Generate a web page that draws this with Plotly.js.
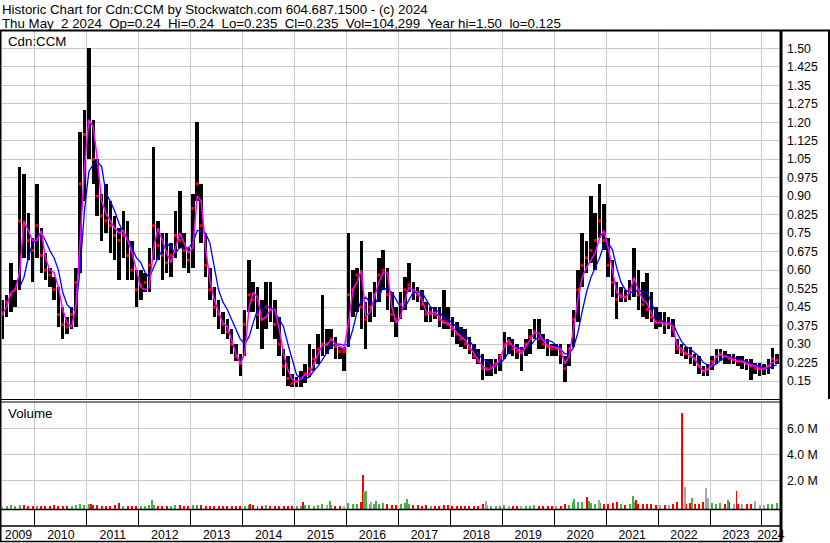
<!DOCTYPE html>
<html>
<head>
<meta charset="utf-8">
<script src="https://cdn.plot.ly/plotly-3.0.1.min.js"></script>
<style>html,body{margin:0;padding:0;background:#fff;}#chart{width:830px;height:543px;}</style>
</head>
<body>
<div id="chart"></div>
<script>
// ---------- DATA (monthly, starting May 2009) ----------
const startYear = 2009, startMonth = 5;
const priceHigh = [
0.48,0.50,0.63,0.56,1.02,0.99,0.83,0.73,
0.95,0.77,0.67,0.61,0.57,0.53,0.45,0.41,0.45,0.61,1.16,1.25,
1.50,1.21,1.05,0.91,0.95,0.88,0.82,0.77,0.84,0.80,0.72,0.60,
0.60,0.59,0.69,1.10,0.80,0.75,0.75,0.71,0.84,0.92,0.75,0.69,
0.91,1.20,0.95,0.75,0.61,0.53,0.48,0.43,0.40,0.36,0.30,0.26,
0.44,0.64,0.55,0.53,0.48,0.55,0.55,0.48,0.41,0.28,0.25,0.18,
0.165,0.19,0.22,0.30,0.28,0.34,0.50,0.36,0.36,0.33,0.29,0.29,
0.75,0.60,0.61,0.72,0.47,0.51,0.55,0.65,0.68,0.61,0.51,0.45,
0.51,0.57,0.63,0.55,0.53,0.52,0.47,0.45,0.45,0.45,0.52,0.45,
0.41,0.39,0.37,0.36,0.33,0.30,0.28,0.26,0.24,0.24,0.24,0.26,
0.35,0.33,0.32,0.30,0.29,0.32,0.36,0.40,0.40,0.34,0.32,0.30,
0.30,0.30,0.25,0.30,0.44,0.60,0.75,0.72,0.90,0.83,0.95,0.87,
0.73,0.64,0.55,0.53,0.52,0.56,0.69,0.60,0.55,0.59,0.51,0.45,
0.43,0.43,0.41,0.40,0.32,0.30,0.29,0.29,0.26,0.25,0.21,0.22,
0.25,0.28,0.28,0.27,0.26,0.26,0.25,0.25,0.24,0.24,0.225,0.225,
0.22,0.24,0.285,0.26
];
const priceLow = [
0.32,0.41,0.43,0.45,0.52,0.65,0.64,0.55,
0.65,0.59,0.56,0.53,0.48,0.37,0.32,0.34,0.36,0.37,0.59,0.88,
1.05,0.95,0.82,0.72,0.75,0.67,0.64,0.56,0.65,0.56,0.56,0.45,
0.48,0.51,0.51,0.64,0.64,0.56,0.59,0.57,0.65,0.69,0.61,0.59,
0.61,0.88,0.71,0.57,0.48,0.41,0.36,0.34,0.32,0.26,0.23,0.17,
0.25,0.43,0.43,0.36,0.28,0.36,0.39,0.32,0.25,0.17,0.13,0.125,
0.125,0.125,0.14,0.165,0.19,0.22,0.25,0.26,0.28,0.24,0.24,0.19,
0.29,0.41,0.43,0.36,0.28,0.39,0.41,0.47,0.52,0.44,0.39,0.33,
0.40,0.44,0.51,0.48,0.47,0.44,0.39,0.39,0.40,0.37,0.36,0.36,
0.33,0.30,0.29,0.28,0.26,0.24,0.22,0.155,0.17,0.17,0.18,0.19,
0.24,0.26,0.25,0.24,0.19,0.25,0.26,0.32,0.28,0.28,0.25,0.25,
0.25,0.22,0.145,0.21,0.29,0.39,0.53,0.59,0.63,0.60,0.73,0.68,
0.57,0.49,0.40,0.47,0.47,0.48,0.49,0.44,0.41,0.40,0.39,0.36,
0.37,0.34,0.36,0.33,0.26,0.25,0.24,0.22,0.21,0.18,0.17,0.17,
0.195,0.22,0.23,0.22,0.22,0.22,0.21,0.20,0.195,0.155,0.18,0.17,
0.175,0.18,0.20,0.22
];
const priceClose = [
0.42,0.47,0.50,0.52,0.80,0.78,0.72,0.68,
0.78,0.66,0.60,0.58,0.52,0.42,0.38,0.37,0.42,0.55,0.95,1.15,
1.20,1.05,0.90,0.82,0.80,0.78,0.74,0.72,0.74,0.66,0.60,0.52,
0.54,0.55,0.62,0.78,0.70,0.66,0.63,0.66,0.74,0.72,0.68,0.64,
0.85,0.95,0.78,0.62,0.52,0.45,0.42,0.38,0.35,0.30,0.25,0.22,
0.38,0.50,0.48,0.42,0.40,0.45,0.44,0.38,0.30,0.21,0.16,0.14,
0.15,0.16,0.18,0.20,0.24,0.28,0.30,0.30,0.32,0.29,0.27,0.27,
0.50,0.52,0.58,0.45,0.40,0.45,0.50,0.58,0.60,0.50,0.42,0.40,
0.46,0.52,0.54,0.51,0.50,0.46,0.42,0.43,0.42,0.40,0.39,0.38,
0.36,0.34,0.32,0.30,0.28,0.25,0.23,0.20,0.20,0.21,0.22,0.25,
0.30,0.30,0.28,0.27,0.27,0.30,0.33,0.35,0.32,0.30,0.29,0.28,
0.28,0.26,0.20,0.28,0.40,0.52,0.62,0.65,0.68,0.72,0.80,0.72,
0.62,0.55,0.48,0.50,0.49,0.52,0.56,0.50,0.46,0.44,0.41,0.39,
0.39,0.38,0.38,0.36,0.28,0.27,0.26,0.25,0.24,0.21,0.19,0.20,
0.23,0.25,0.26,0.25,0.24,0.24,0.23,0.23,0.22,0.21,0.20,0.20,
0.20,0.21,0.24,0.235
];
const maFast = [
0.42,0.45,0.51,0.52,0.59,0.80,0.76,0.72,
0.72,0.76,0.65,0.60,0.59,0.53,0.44,0.385,0.37,0.45,0.72,1.02,
1.21,1.18,1.05,0.88,0.83,0.80,0.77,0.75,0.76,0.72,0.67,0.60,
0.53,0.52,0.53,0.69,0.77,0.72,0.67,0.63,0.69,0.75,0.71,0.67,
0.69,0.90,0.88,0.69,0.56,0.48,0.43,0.385,0.37,0.32,0.26,0.22,
0.26,0.45,0.51,0.49,0.40,0.41,0.44,0.44,0.36,0.26,0.195,0.155,
0.146,0.16,0.175,0.175,0.22,0.26,0.295,0.295,0.32,0.30,0.29,0.28,
0.385,0.52,0.55,0.60,0.41,0.43,0.49,0.55,0.59,0.59,0.45,0.385,
0.41,0.48,0.53,0.52,0.51,0.48,0.43,0.42,0.43,0.41,0.385,0.385,
0.37,0.345,0.33,0.315,0.29,0.26,0.235,0.21,0.195,0.20,0.215,0.235,
0.29,0.315,0.29,0.28,0.26,0.29,0.315,0.345,0.345,0.315,0.295,0.29,
0.285,0.28,0.22,0.25,0.36,0.48,0.57,0.61,0.64,0.67,0.73,0.76,
0.69,0.60,0.51,0.49,0.49,0.51,0.57,0.52,0.48,0.465,0.425,0.385,
0.385,0.385,0.385,0.37,0.29,0.28,0.26,0.255,0.24,0.21,0.19,0.195,
0.215,0.25,0.255,0.25,0.245,0.235,0.23,0.23,0.22,0.215,0.21,0.20,
0.20,0.21,0.225,0.235
];
const maSlow = [
null,null,null,null,0.53,0.57,0.65,0.71,
0.73,0.75,0.72,0.68,0.65,0.60,0.51,0.46,0.44,0.44,0.61,0.84,
1.00,1.03,1.04,1.02,0.91,0.88,0.84,0.79,0.75,0.73,0.69,0.65,
0.63,0.59,0.57,0.61,0.65,0.68,0.71,0.69,0.67,0.69,0.69,0.69,
0.71,0.76,0.76,0.75,0.71,0.61,0.52,0.47,0.44,0.40,0.36,0.32,
0.30,0.33,0.385,0.44,0.44,0.45,0.45,0.43,0.40,0.37,0.30,0.235,
0.175,0.16,0.16,0.165,0.19,0.21,0.235,0.26,0.29,0.30,0.30,0.295,
0.30,0.36,0.43,0.48,0.49,0.47,0.46,0.49,0.53,0.52,0.51,0.48,
0.45,0.45,0.48,0.51,0.51,0.51,0.48,0.45,0.44,0.43,0.41,0.40,
0.385,0.37,0.355,0.335,0.315,0.29,0.26,0.24,0.23,0.215,0.215,0.22,
0.24,0.265,0.29,0.285,0.28,0.285,0.29,0.315,0.33,0.315,0.315,0.31,
0.295,0.28,0.26,0.26,0.285,0.345,0.43,0.51,0.57,0.61,0.65,0.70,
0.71,0.68,0.61,0.55,0.52,0.51,0.51,0.52,0.51,0.51,0.465,0.425,
0.40,0.385,0.385,0.385,0.345,0.31,0.29,0.28,0.265,0.25,0.225,0.215,
0.21,0.22,0.235,0.245,0.25,0.245,0.24,0.235,0.23,0.22,0.215,0.21,
0.205,0.20,0.21,0.215
];
// typical daily volume per month (millions of shares)
const volumeMonthly = [
0.06,0.05,0.08,0.05,0.10,0.08,0.06,0.05,
0.05,0.05,0.04,0.05,0.08,0.05,0.05,0.04,0.06,0.10,0.15,0.12,
0.15,0.10,0.08,0.06,0.05,0.06,0.08,0.10,0.06,0.05,0.05,0.04,
0.05,0.06,0.08,0.10,0.06,0.05,0.04,0.05,0.08,0.10,0.06,0.05,
0.08,0.12,0.08,0.06,0.05,0.04,0.05,0.04,0.05,0.06,0.05,0.05,
0.06,0.12,0.08,0.06,0.05,0.08,0.05,0.04,0.05,0.06,0.05,0.04,
0.04,0.05,0.10,0.08,0.06,0.08,0.15,0.08,0.10,0.05,0.04,0.05,
0.25,0.20,0.15,0.30,0.35,0.20,0.15,0.20,0.25,0.15,0.10,0.10,
0.15,0.25,0.15,0.10,0.08,0.06,0.08,0.06,0.05,0.06,0.12,0.08,
0.06,0.05,0.06,0.05,0.04,0.05,0.06,0.15,0.12,0.05,0.04,0.05,
0.08,0.06,0.05,0.05,0.06,0.05,0.06,0.08,0.06,0.05,0.04,0.05,
0.05,0.06,0.15,0.12,0.30,0.35,0.30,0.35,0.25,0.20,0.25,0.20,
0.20,0.25,0.30,0.15,0.10,0.20,0.35,0.20,0.15,0.20,0.15,0.10,
0.10,0.12,0.10,0.15,0.30,0.25,0.20,0.25,0.15,0.20,0.30,0.35,
0.25,0.20,0.25,0.20,0.30,0.20,0.15,0.15,0.15,0.20,0.15,0.10,
0.10,0.15,0.20,0.25
];
// notable single-day volumes (millions), direction u=up d=down n=unchanged
const spikeDates = ['2011-01-28','2011-08-12','2012-04-03','2014-02-20','2015-03-03','2015-09-10',
  '2016-04-27','2016-05-03','2016-05-19','2016-06-20','2016-07-25','2017-03-01','2018-09-06',
  '2020-05-18','2020-08-17','2020-09-05','2020-11-10','2021-07-08','2021-07-28',
  '2022-06-16','2022-07-06','2022-08-25','2022-12-01','2022-12-20','2023-05-10','2023-07-06',
  '2023-11-10','2024-04-15'];
const spikeVolumes = [0.20,0.28,0.48,0.20,0.35,0.40,
  2.4,1.1,1.2,0.35,0.40,0.55,0.40,
  0.55,0.70,0.40,0.50,0.80,0.50,
  7.2,1.5,0.60,1.4,0.60,0.45,1.15,
  0.40,0.25];
const spikeDirs = ['d','d','u','d','d','u',
  'd','u','u','n','u','u','n',
  'u','d','u','n','u','d',
  'd','n','u','n','n','u','d',
  'n','u'];
const priceTickLabels = ['0.15','0.225','0.30','0.375','0.45','0.525','0.60','0.675','0.75','0.825',
  '0.90','0.975','1.05','1.125','1.20','1.275','1.35','1.425','1.50'];
const volumeTickLabels = ['2.0 M','4.0 M','6.0 M'];
const volumeTickValues = [2.0, 4.0, 6.0];
const yearLabels = ['2009','2010','2011','2012','2013','2014','2015','2016','2017','2018','2019','2020','2021','2022','2023','2024'];
const titleLine1 = 'Historic Chart for Cdn:CCM by Stockwatch.com 604.687.1500 - (c) 2024';
const titleLine2 = 'Thu May  2 2024  Op=0.24  Hi=0.24  Lo=0.235  Cl=0.235  Vol=104,299  Year hi=1.50  lo=0.125';

// ---------- BUILD ----------
const pad = n => (n < 10 ? '0' : '') + n;
const monthDates = priceHigh.map((_, i) => {
  const m0 = startMonth - 1 + i;
  const y = startYear + Math.floor(m0 / 12);
  const m = (m0 % 12) + 1;
  return y + '-' + pad(m) + '-15';
});
const DAY = 86400000;
const xRange = ['2009-05-14', '2024-05-07'];
const boundaries = yearLabels.slice(1).map(y => y + '-01-01');
const t0 = Date.parse(xRange[0]), t1 = Date.parse(xRange[1]);
const centers = yearLabels.map((y, i) => {
  const a = i === 0 ? t0 : Date.parse(y + '-01-01');
  const b = i === yearLabels.length - 1 ? t1 : Date.parse(yearLabels[i + 1] + '-01-01');
  return new Date((a + b) / 2).toISOString().slice(0, 10);
});

const FONT = 'Liberation Sans, Arial, Helvetica, sans-serif';
const GRID = '#c8c8c8';
const volMin = -0.208, volMax = 8.02;
const dirColor = {u: '#49b049', d: '#ff0000', n: '#a6a6a6'};
const monthDirs = priceClose.map((c, i) => i === 0 ? 'n' : (c > priceClose[i-1] ? 'u' : (c < priceClose[i-1] ? 'd' : 'n')));

const traces = [
  { type: 'bar', x: monthDates, base: priceLow, y: priceHigh.map((h, i) => h - priceLow[i]),
    width: 25 * DAY, marker: {color: '#000', line: {width: 0}}, xaxis: 'x', yaxis: 'y', hoverinfo: 'skip' },
  { type: 'scatter', mode: 'markers', x: monthDates, y: priceClose,
    marker: {symbol: 'square', size: 3, color: '#ff0000'}, xaxis: 'x', yaxis: 'y', hoverinfo: 'skip' },
  { type: 'scatter', mode: 'lines', x: monthDates, y: maSlow, line: {color: '#0000ff', width: 1.3},
    connectgaps: false, xaxis: 'x', yaxis: 'y', hoverinfo: 'skip' },
  { type: 'scatter', mode: 'lines', x: monthDates, y: maFast, line: {color: '#ff00ff', width: 1.5},
    xaxis: 'x', yaxis: 'y', hoverinfo: 'skip' },
  { type: 'bar', x: monthDates, base: volMin, y: volumeMonthly.map(v => v - volMin),
    width: 14 * DAY, marker: {color: monthDirs.map(d => dirColor[d]), line: {width: 0}},
    xaxis: 'x2', yaxis: 'y2', hoverinfo: 'skip' },
  { type: 'bar', x: spikeDates, base: volMin, y: spikeVolumes.map(v => v - volMin),
    width: 14 * DAY, marker: {color: spikeDirs.map(d => dirColor[d]), line: {width: 0}},
    xaxis: 'x2', yaxis: 'y2', hoverinfo: 'skip' }
];

// pixel helpers for frame lines / labels (plot area: x 2..780, y 31..509)
const PX = px => (px - 2) / 778;
const PY = py => (509 - py) / 478;
const line = (x0, y0, x1, y1, w) => ({type: 'line', xref: 'paper', yref: 'paper',
  x0: PX(x0), y0: PY(y0), x1: PX(x1), y1: PY(y1), line: {color: '#000', width: w}});
const TXT = {family: FONT, size: 13.3, color: '#000'};
const TICKF = {family: FONT, size: 12.3, color: '#000'};

const layout = {
  width: 830, height: 543,
  margin: {l: 2, r: 50, t: 31, b: 34, pad: 0},
  paper_bgcolor: '#fff', plot_bgcolor: '#fff',
  showlegend: false, barmode: 'overlay', bargap: 0,
  font: {family: FONT, size: 12, color: '#000'},
  xaxis: { domain: [0, 1], anchor: 'y', type: 'date', range: xRange,
    tickmode: 'array', tickvals: boundaries, showticklabels: false, ticks: '',
    showgrid: true, gridcolor: GRID, gridwidth: 1, zeroline: false, showline: false },
  xaxis2: { domain: [0, 1], anchor: 'y2', type: 'date', range: xRange, matches: 'x',
    tickmode: 'array', tickvals: centers, ticktext: yearLabels, ticks: '', showgrid: false,
    ticklabelstandoff: 17, tickfont: TICKF,
    minor: {tickmode: 'array', tickvals: boundaries, ticks: 'outside', ticklen: 16,
            tickcolor: '#000', tickwidth: 1, showgrid: true, gridcolor: GRID, gridwidth: 1},
    zeroline: false, showline: false },
  yaxis: { domain: [PY(399), 1], anchor: 'x', side: 'right', range: [0.077, 1.570],
    tickmode: 'array', tickvals: priceTickLabels.map(Number), ticktext: priceTickLabels,
    ticks: '', ticklabelstandoff: 6, showgrid: true, gridcolor: GRID, gridwidth: 1,
    zeroline: false, showline: false, tickfont: TICKF },
  yaxis2: { domain: [0, PY(402)], anchor: 'x2', side: 'right', range: [volMin, volMax],
    tickmode: 'array', tickvals: volumeTickValues, ticktext: volumeTickLabels,
    ticks: '', ticklabelstandoff: 6, showgrid: true, gridcolor: GRID, gridwidth: 1,
    zeroline: false, showline: false, tickfont: TICKF },
  shapes: [
    line(0, 30.5, 830, 30.5, 2),
    line(0.5, 31, 0.5, 542, 2),
    line(781, 31, 781, 542, 3),
    line(829, 31, 829, 399, 2),
    line(0, 399.5, 781, 399.5, 1),
    line(0, 402, 781, 402, 1),
    line(0, 509.5, 781, 509.5, 1.5),
    line(0, 526, 781, 526, 1.5),
    line(0, 541.5, 781, 541.5, 1.5)
  ],
  annotations: [
    {xref: 'paper', yref: 'paper', x: PX(1), y: PY(0.5), xanchor: 'left', yanchor: 'top',
     text: titleLine1.replace(/ {2}/g, ' \u00a0'), showarrow: false, borderpad: 0, font: TXT},
    {xref: 'paper', yref: 'paper', x: PX(1), y: PY(15), xanchor: 'left', yanchor: 'top',
     text: titleLine2.replace(/ {2}/g, ' \u00a0'), showarrow: false, borderpad: 0, font: TXT},
    {xref: 'paper', yref: 'paper', x: PX(7), y: PY(33), xanchor: 'left', yanchor: 'top',
     text: 'Cdn:CCM', showarrow: false, borderpad: 0, font: TXT},
    {xref: 'paper', yref: 'paper', x: PX(7), y: PY(405), xanchor: 'left', yanchor: 'top',
     text: 'Volume', showarrow: false, borderpad: 0, font: TXT}
  ]
};

Plotly.newPlot('chart', traces, layout, {displayModeBar: false, staticPlot: true});
</script>
</body>
</html>
